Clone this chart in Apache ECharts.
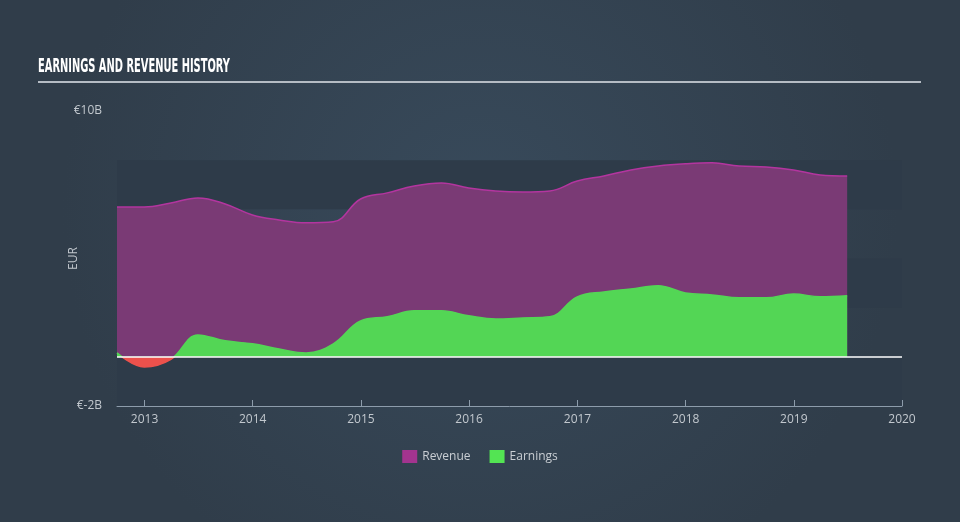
<!DOCTYPE html>
<html>
<head>
<meta charset="utf-8">
<script src="https://cdn.jsdelivr.net/npm/echarts@6/dist/echarts.min.js"></script>
<style>
html,body{margin:0;padding:0;background:#344352;}
#c{width:960px;height:522px;}
</style>
</head>
<body>
<div id="c"></div>
<script>
const dates = ['2012-09-30','2012-12-31','2013-03-31','2013-06-30','2013-09-30','2013-12-31',
  '2014-03-31','2014-06-30','2014-09-30','2014-12-31','2015-03-31','2015-06-30','2015-09-30','2015-12-31',
  '2016-03-31','2016-06-30','2016-09-30','2016-12-31','2017-03-31','2017-06-30','2017-09-30','2017-12-31',
  '2018-03-31','2018-06-30','2018-09-30','2018-12-31','2019-03-31','2019-06-30'];
const revenue = [6.10,6.10,6.26,6.46,6.22,5.77,5.57,5.45,5.49,6.42,6.67,6.95,7.07,6.87,6.75,6.71,6.75,7.15,7.36,7.60,7.76,7.85,7.89,7.76,7.72,7.60,7.40,7.36];
const earnings = [0.16,-0.41,-0.10,0.89,0.65,0.53,0.32,0.16,0.53,1.46,1.63,1.87,1.87,1.67,1.54,1.58,1.63,2.44,2.64,2.76,2.89,2.60,2.52,2.40,2.40,2.56,2.44,2.48];
const yTickLabels = {'-2':'€-2B','10':'€10B'};
const titleText = 'EARNINGS AND REVENUE HISTORY';

const revData = dates.map((d,i)=>[d,revenue[i]]);
const earnData = dates.map((d,i)=>[d,earnings[i]]);

const cv = document.createElement('canvas').getContext('2d');
const titleFont = 'bold 19px "DejaVu Sans Condensed", "DejaVu Sans"';
cv.font = titleFont;
const tw = cv.measureText(titleText).width;
const sx = 192 / tw;

const chart = echarts.init(document.getElementById('c'));
const YEAR = 365*24*3600*1000;
chart.setOption({
  backgroundColor: {
    type:'radial', x:0.5, y:0.4, r:0.8,
    colorStops:[{offset:0,color:'#384a5b'},{offset:1,color:'#303d4a'}]
  },
  animation:false,
  graphic:[
    {type:'text', left:38, top:58, scaleX:sx, scaleY:1,
     style:{text:titleText, font:titleFont, fill:'#ffffff'}},
    {type:'rect', shape:{x:38,y:81,width:883,height:2}, style:{fill:'#b5bcc4'}}
  ],
  grid:{left:117,right:58,top:111,bottom:116},
  legend:{
    bottom:54, left:'center', icon:'rect', itemWidth:15, itemHeight:13, itemGap:19,
    textStyle:{color:'#c9ced3', fontSize:12, fontFamily:'Open Sans'},
    data:[{name:'Revenue', itemStyle:{color:'#a3348f'}},{name:'Earnings', itemStyle:{color:'#53e453'}}]
  },
  visualMap:{
    show:false, type:'piecewise', seriesIndex:1, dimension:1,
    pieces:[{gte:-5, lt:0, color:'#ec514c'},{gte:0, lte:15, color:'#53d655'}]
  },
  xAxis:{
    type:'time', min:'2012-09-30', max:'2020-01-01',
    minInterval:YEAR, maxInterval:YEAR+86400000,
    axisLine:{show:true, onZero:false, lineStyle:{color:'#8d9cab', width:1}},
    axisTick:{show:true, inside:true, length:6, lineStyle:{color:'#8d9cab'}},
    axisLabel:{color:'#c2c8ce', fontSize:12, fontFamily:'Open Sans', margin:8, formatter:'{yyyy}', hideOverlap:false, showMaxLabel:true},
    splitLine:{show:false}
  },
  yAxis:{
    type:'value', min:-2, max:10, interval:2,
    name:'EUR', nameLocation:'middle', nameGap:37, nameRotate:90, nameMoveOverlap:false,
    nameTextStyle:{color:'#c2c8ce', fontSize:12, fontFamily:'Open Sans'},
    axisLine:{show:false}, axisTick:{show:false},
    axisLabel:{color:'#c2c8ce', fontSize:12, fontFamily:'Open Sans', margin:15,
      formatter:v=> yTickLabels[String(v)] || ''},
    splitLine:{show:false},
    splitArea:{show:true, areaStyle:{color:['#2e3b49','rgba(0,0,0,0)']}}
  },
  series:[
    {name:'Revenue', type:'line', data:revData, smooth:0.4, symbol:'none',
     itemStyle:{color:'#a3348f'},
     lineStyle:{color:'#b3359f', width:1.5},
     areaStyle:{color:'#7a3a75', opacity:1}},
    {name:'Earnings', type:'line', data:earnData, smooth:0.4, symbol:'none',
     itemStyle:{color:'#53d655'},
     lineStyle:{width:1.5},
     areaStyle:{opacity:1},
     markLine:{silent:true, symbol:'none', label:{show:false},
       lineStyle:{color:'#ffffff', width:1.5, type:'solid'},
       data:[{yAxis:0}]}}
  ]
});
</script>
</body>
</html>
